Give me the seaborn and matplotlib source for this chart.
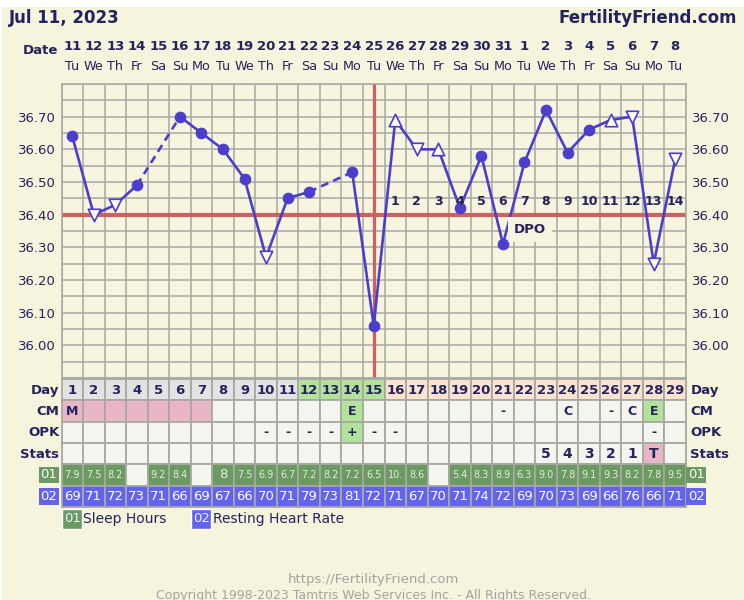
import numpy as np
import seaborn as sns
import matplotlib.pyplot as plt
from matplotlib.patches import Rectangle

# =========================================================
# DATA
# =========================================================

chart_date = "Jul 11, 2023"
site_name = "FertilityFriend.com"

cycle_days = list(range(1, 30))

date_nums = [11, 12, 13, 14, 15, 16, 17, 18, 19, 20, 21, 22, 23, 24, 25,
             26, 27, 28, 29, 30, 31, 1, 2, 3, 4, 5, 6, 7, 8]

weekdays = ["Tu", "We", "Th", "Fr", "Sa", "Su", "Mo",
            "Tu", "We", "Th", "Fr", "Sa", "Su", "Mo",
            "Tu", "We", "Th", "Fr", "Sa", "Su", "Mo",
            "Tu", "We", "Th", "Fr", "Sa", "Su", "Mo", "Tu"]

temps = [36.64, 36.40, 36.43, 36.49, np.nan, 36.70, 36.65, 36.60, 36.51,
         36.27, 36.45, 36.47, np.nan, 36.53, 36.06, 36.69, 36.60, 36.60,
         36.42, 36.58, 36.31, 36.56, 36.72, 36.59, 36.66, 36.69, 36.70,
         36.25, 36.57]

# dot = normal reading, up / down = open triangle readings
temp_kind = ["dot", "down", "down", "dot", "", "dot", "dot", "dot", "dot",
             "down", "dot", "dot", "", "dot", "dot", "up", "down", "up",
             "dot", "dot", "dot", "dot", "dot", "dot", "dot", "up", "down",
             "down", "down"]

coverline = 36.40
ovulation_day = 15
fertile_days = [12, 13, 14, 15]
period_days = [1, 2, 3, 4, 5, 6, 7]

cm = ["M", "", "", "", "", "", "", "", "", "", "", "", "", "E", "",
      "", "", "", "", "", "-", "", "", "C", "", "-", "C", "E", ""]

opk = ["", "", "", "", "", "", "", "", "", "-", "-", "-", "-", "+", "-",
       "-", "", "", "", "", "", "", "", "", "", "", "", "-", ""]

stats = ["", "", "", "", "", "", "", "", "", "", "", "", "", "", "",
         "", "", "", "", "", "", "", "5", "4", "3", "2", "1", "T", ""]

sleep_hours = ["7.9", "7.5", "8.2", "", "9.2", "8.4", "", "8", "7.5", "6.9",
               "6.7", "7.2", "8.2", "7.2", "6.5", "10.", "8.6", "", "5.4",
               "8.3", "8.9", "6.3", "9.0", "7.8", "9.1", "9.3", "8.2", "7.8",
               "9.5"]

heart_rate = [69, 71, 72, 73, 71, 66, 69, 67, 66, 70, 71, 79, 73, 81, 72,
              71, 67, 70, 71, 74, 72, 69, 70, 73, 69, 66, 76, 66, 71]

row_labels = ["Day", "CM", "OPK", "Stats"]

# =========================================================
# STYLE
# =========================================================

sns.set_style("white")
plt.rcParams["font.family"] = ["DejaVu Sans"]

BG = "#f6f4dd"
PLOT_BG = "#f7f5df"
NAVY = "#23235e"
LINE = "#4a3ecb"
RED = "#cf6060"
GRID = "#a8a8a4"
CELL = "#f5f5ef"
GREY_CELL = "#e3e3e3"
GREEN_CELL = "#b3e29a"
PEACH_CELL = "#fbe3cf"
PINK_CELL = "#e8b6c4"
SLEEP_GREEN = "#6b9a62"
HR_BLUE = "#6363ee"
FOOT = "#a3a3a3"

W, H = 744, 600


def fx(px):
    return px / W


def fy(py):
    return 1 - py / H


fig = plt.figure(figsize=(W / 100, H / 100), dpi=100)
fig.patch.set_facecolor("white")
fig.patches.append(Rectangle((fx(2), 0), 1, fy(7), transform=fig.transFigure,
                             facecolor=BG, edgecolor="none", zorder=-10))

# =========================================================
# HEADER
# =========================================================

fig.text(fx(9), fy(18), chart_date, fontsize=12, weight="bold",
         color=NAVY, ha="left", va="center")
fig.text(fx(737), fy(18), site_name, fontsize=12, weight="bold",
         color=NAVY, ha="right", va="center")
fig.text(fx(58), fy(50), "Date", fontsize=9.5, weight="bold",
         color=NAVY, ha="right", va="center")

# =========================================================
# TEMPERATURE CHART
# =========================================================

left, right, top, bottom = 61.5, 686, 84, 378
ax = fig.add_axes([fx(left), fy(bottom), fx(right - left),
                   (bottom - top) / H])
ax.set_facecolor(PLOT_BG)
ax.set_xlim(0.5, 29.5)
ax.set_ylim(35.90, 36.80)

ax.set_xticks(np.arange(0.5, 30, 1))
ax.set_xticklabels([])
grid_y = np.round(np.arange(35.90, 36.801, 0.05), 2)
ax.set_yticks(grid_y)
ax.set_yticklabels([f"{v:.2f}" if (36.0 <= v <= 36.7 and round(v * 100) % 10 == 0)
                    else "" for v in grid_y])
ax.tick_params(axis="both", length=0)
ax.tick_params(axis="y", labelleft=True, labelright=True, pad=4,
               labelsize=9.5, labelcolor=NAVY)
ax.grid(True, color=GRID, linewidth=1.1)
ax.set_axisbelow(True)
for sp in ax.spines.values():
    sp.set_color(GRID)
    sp.set_linewidth(1.1)

ax.axhline(coverline, color=RED, linewidth=3.0, zorder=2)
ax.axvline(ovulation_day, color=RED, linewidth=2.3, zorder=2)

# solid segments (gaps break the line)
ax.plot(cycle_days, temps, color=LINE, linewidth=1.9, zorder=3)

# dashed bridges over missing days
for i, t in enumerate(temps):
    if np.isnan(t) and 0 < i < len(temps) - 1:
        if not np.isnan(temps[i - 1]) and not np.isnan(temps[i + 1]):
            ax.plot([cycle_days[i - 1], cycle_days[i + 1]],
                    [temps[i - 1], temps[i + 1]], color=LINE,
                    linewidth=1.9, linestyle=(0, (3, 2)), zorder=3)

marker_map = {"dot": "o", "up": "^", "down": "v"}
for kind, mk in marker_map.items():
    xs = [d for d, k in zip(cycle_days, temp_kind) if k == kind]
    ys = [t for t, k in zip(temps, temp_kind) if k == kind]
    if kind == "dot":
        sns.scatterplot(x=xs, y=ys, marker=mk, s=58, color=LINE,
                        edgecolor=LINE, linewidth=0.8, zorder=4, ax=ax)
    else:
        sns.scatterplot(x=xs, y=ys, marker=mk, s=80, facecolor="#fcfbf4",
                        edgecolor=LINE, linewidth=1.2, zorder=4, ax=ax)

# DPO counter
for d in cycle_days:
    if d > ovulation_day:
        ax.text(d, 36.44, str(d - ovulation_day), fontsize=9, weight="bold",
                color=NAVY, ha="center", va="center", zorder=6)
ax.text(22.25, 36.355, "DPO", fontsize=9.5, weight="bold", color=NAVY,
        ha="center", va="center", zorder=6,
        bbox=dict(boxstyle="square,pad=0.45", facecolor=PLOT_BG,
                  edgecolor="none"))

# dates along the top
xt = ax.get_xaxis_transform()
for d, n, wd in zip(cycle_days, date_nums, weekdays):
    ax.text(d, (bottom - 47) / (bottom - top), str(n), transform=xt,
            fontsize=9.5, weight="bold", color=NAVY, ha="center", va="center")
    ax.text(d, (bottom - 67) / (bottom - top), wd, transform=xt,
            fontsize=9.2, color=NAVY, ha="center", va="center")

# =========================================================
# DATA TABLE
# =========================================================

t_top, t_bot = 379, 507
tab = fig.add_axes([fx(left), fy(t_bot), fx(right - left),
                    (t_bot - t_top) / H])
tab.set_xlim(0.5, 29.5)
tab.set_ylim(6, 0)
tab.axis("off")

day_colors = [GREY_CELL if d < fertile_days[0] else
              GREEN_CELL if d in fertile_days else PEACH_CELL
              for d in cycle_days]
cm_colors = [PINK_CELL if d in period_days else
             GREEN_CELL if c == "E" else CELL
             for d, c in zip(cycle_days, cm)]
opk_colors = [GREEN_CELL if o == "+" else CELL for o in opk]
stats_colors = [PINK_CELL if s == "T" else CELL for s in stats]
sleep_colors = [SLEEP_GREEN if s else CELL for s in sleep_hours]
hr_colors = [HR_BLUE] * len(heart_rate)

rows = [day_colors, cm_colors, opk_colors, stats_colors, sleep_colors,
        hr_colors]
for r, colors in enumerate(rows):
    tab.bar(cycle_days, 1, bottom=r, width=1, color=colors,
            edgecolor=GRID, linewidth=1.3, clip_on=False)

for d in cycle_days:
    i = d - 1
    tab.text(d, 0.52, str(d), fontsize=9.5, weight="bold", color=NAVY,
             ha="center", va="center")
    tab.text(d, 1.52, cm[i], fontsize=9, weight="bold", color=NAVY,
             ha="center", va="center")
    tab.text(d, 2.52, opk[i], fontsize=9, weight="bold", color=NAVY,
             ha="center", va="center")
    tab.text(d, 3.52, stats[i], fontsize=10, weight="bold", color=NAVY,
             ha="center", va="center")
    s = sleep_hours[i]
    tab.text(d, 4.5, s, fontsize=9.5 if len(s) == 1 else 7,
             color="#e6eedf", ha="center", va="center")
    tab.text(d, 5.52, str(heart_rate[i]), fontsize=9.5, color="white",
             ha="center", va="center")

for r, lab in enumerate(row_labels):
    tab.text(0.4, r + 0.52, lab, fontsize=9.5, weight="bold", color=NAVY,
             ha="right", va="center", clip_on=False)
    tab.text(29.7, r + 0.52, lab, fontsize=9.5, weight="bold", color=NAVY,
             ha="left", va="center", clip_on=False)

for r, (code, col) in enumerate([("01", SLEEP_GREEN), ("02", HR_BLUE)]):
    tab.text(-0.08, 4.5 + r, code, fontsize=9.5, color="white",
             ha="center", va="center", clip_on=False,
             bbox=dict(boxstyle="square,pad=0.14", facecolor=col,
                       edgecolor="none"))
    tab.text(29.58, 4.5 + r, code, fontsize=9.5, color="white",
             ha="left", va="center", clip_on=False,
             bbox=dict(boxstyle="square,pad=0.14", facecolor=col,
                       edgecolor="none"))

# legend
legend_items = [("01", "Sleep Hours", SLEEP_GREEN, 1),
                ("02", "Resting Heart Rate", HR_BLUE, 7)]
for code, name, col, pos in legend_items:
    tab.bar(pos, 0.92, bottom=6.1, width=0.93, color=col, clip_on=False)
    tab.text(pos, 6.56, code, fontsize=9.5, color="#eef2ff",
             ha="center", va="center", clip_on=False)
    tab.text(pos + 0.52, 6.56, name, fontsize=10, color=NAVY,
             ha="left", va="center", clip_on=False)

# =========================================================
# FOOTER
# =========================================================

fig.text(fx(373), fy(579), "https://FertilityFriend.com", fontsize=9.5,
         color=FOOT, ha="center", va="center")
fig.text(fx(373), fy(595),
         "Copyright 1998-2023 Tamtris Web Services Inc. - All Rights Reserved.",
         fontsize=9, color=FOOT, ha="center", va="center")

fig.savefig("out.png", dpi=100, facecolor=fig.get_facecolor())
